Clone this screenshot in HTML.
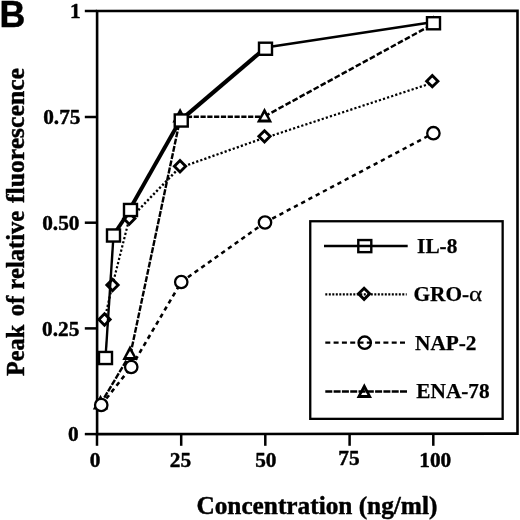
<!DOCTYPE html>
<html><head><meta charset="utf-8"><title>Figure B</title>
<style>html,body{margin:0;padding:0;background:#fff}svg{display:block;filter:blur(0.35px)}</style></head>
<body>
<svg width="520" height="520" viewBox="0 0 520 520">
<rect width="520" height="520" fill="#fff"/>
<polygon points="97.1,10.95 517.5,10.85 517.5,433.6 97.1,434.15" fill="none" stroke="#000" stroke-width="2.6" stroke-linejoin="miter"/>
<line x1="84.8" x2="97.0" y1="434.10" y2="434.10" stroke="#000" stroke-width="2.5"/>
<line x1="84.8" x2="97.0" y1="328.40" y2="328.40" stroke="#000" stroke-width="2.5"/>
<line x1="84.8" x2="97.0" y1="222.70" y2="222.70" stroke="#000" stroke-width="2.5"/>
<line x1="84.8" x2="97.0" y1="117.00" y2="117.00" stroke="#000" stroke-width="2.5"/>
<line x1="84.8" x2="97.0" y1="11.00" y2="11.00" stroke="#000" stroke-width="2.5"/>
<line x1="97.00" x2="97.00" y1="434.0" y2="445.8" stroke="#000" stroke-width="2.5"/>
<line x1="181.20" x2="181.20" y1="434.0" y2="445.8" stroke="#000" stroke-width="2.5"/>
<line x1="265.30" x2="265.30" y1="434.0" y2="445.8" stroke="#000" stroke-width="2.5"/>
<line x1="349.60" x2="349.60" y1="434.0" y2="445.8" stroke="#000" stroke-width="2.5"/>
<line x1="433.30" x2="433.30" y1="434.0" y2="445.8" stroke="#000" stroke-width="2.5"/>
<line x1="100.50" y1="404.00" x2="130.00" y2="354.50" stroke="#000" stroke-width="2.4" stroke-dasharray="6 1.4"/>
<line x1="130.40" y1="354.50" x2="180.50" y2="117.20" stroke="#000" stroke-width="2.4" stroke-dasharray="6 1.4"/>
<line x1="180.10" y1="116.90" x2="264.50" y2="116.70" stroke="#000" stroke-width="2.5" stroke-dasharray="5.2 1.6"/>
<line x1="264.50" y1="116.40" x2="433.50" y2="23.90" stroke="#000" stroke-width="2.5" stroke-dasharray="5.7 2.3"/>
<polygon points="100.50,394.70 108.20,409.40 92.80,409.40" fill="#000"/><polygon points="100.50,400.40 104.00,406.60 97.00,406.60" fill="#fff"/>
<polygon points="130.00,345.20 137.70,359.90 122.30,359.90" fill="#000"/><polygon points="130.00,350.90 133.50,357.10 126.50,357.10" fill="#fff"/>
<polygon points="180.10,107.90 187.80,122.60 172.40,122.60" fill="#000"/><polygon points="180.10,113.60 183.60,119.80 176.60,119.80" fill="#fff"/>
<polygon points="264.50,107.70 272.20,122.40 256.80,122.40" fill="#000"/><polygon points="264.50,113.40 268.00,119.60 261.00,119.60" fill="#fff"/>
<polygon points="433.50,15.20 441.20,29.90 425.80,29.90" fill="#000"/><polygon points="433.50,20.90 437.00,27.10 430.00,27.10" fill="#fff"/>
<line x1="101.25" y1="405.00" x2="131.25" y2="367.00" stroke="#000" stroke-width="2.6" stroke-dasharray="4.3 3.9"/>
<line x1="131.25" y1="367.00" x2="181.25" y2="282.00" stroke="#000" stroke-width="2.6" stroke-dasharray="4.3 3.9"/>
<line x1="181.25" y1="282.00" x2="265.00" y2="222.50" stroke="#000" stroke-width="2.6" stroke-dasharray="4.3 3.9"/>
<line x1="265.00" y1="222.50" x2="433.40" y2="133.20" stroke="#000" stroke-width="2.5" stroke-dasharray="4.3 3.9"/>
<circle cx="101.25" cy="405.00" r="6.2" fill="#fff" stroke="#000" stroke-width="2.3"/>
<circle cx="131.25" cy="367.00" r="6.2" fill="#fff" stroke="#000" stroke-width="2.3"/>
<circle cx="181.25" cy="282.00" r="6.2" fill="#fff" stroke="#000" stroke-width="2.3"/>
<circle cx="265.00" cy="222.50" r="6.2" fill="#fff" stroke="#000" stroke-width="2.3"/>
<circle cx="433.40" cy="133.20" r="6.2" fill="#fff" stroke="#000" stroke-width="2.3"/>
<line x1="104.50" y1="319.50" x2="112.50" y2="285.00" stroke="#000" stroke-width="2.2" stroke-dasharray="2.2 2.1"/>
<line x1="112.50" y1="285.00" x2="129.30" y2="218.60" stroke="#000" stroke-width="2.2" stroke-dasharray="2.2 2.1"/>
<line x1="129.30" y1="219.40" x2="180.00" y2="167.05" stroke="#000" stroke-width="2.4" stroke-dasharray="2.2 2.1"/>
<line x1="180.00" y1="167.65" x2="264.50" y2="137.75" stroke="#000" stroke-width="2.3" stroke-dasharray="2.2 2.1"/>
<line x1="264.50" y1="138.05" x2="432.30" y2="82.90" stroke="#000" stroke-width="2.2" stroke-dasharray="2.2 2.1"/>
<polygon points="104.50,313.85 110.15,319.50 104.50,325.15 98.85,319.50" fill="#fff" stroke="#000" stroke-width="2.85"/>
<polygon points="112.50,279.35 118.15,285.00 112.50,290.65 106.85,285.00" fill="#fff" stroke="#000" stroke-width="2.85"/>
<polygon points="129.30,212.95 134.95,218.60 129.30,224.25 123.65,218.60" fill="#fff" stroke="#000" stroke-width="2.85"/>
<polygon points="180.00,160.60 185.65,166.25 180.00,171.90 174.35,166.25" fill="#fff" stroke="#000" stroke-width="2.85"/>
<polygon points="264.50,130.70 270.15,136.35 264.50,142.00 258.85,136.35" fill="#fff" stroke="#000" stroke-width="2.85"/>
<polygon points="432.30,75.55 437.95,81.20 432.30,86.85 426.65,81.20" fill="#fff" stroke="#000" stroke-width="2.85"/>
<line x1="105.50" y1="358.00" x2="113.50" y2="235.50" stroke="#000" stroke-width="2.4"/>
<line x1="113.50" y1="235.00" x2="130.50" y2="209.50" stroke="#000" stroke-width="3.9"/>
<line x1="129.60" y1="209.50" x2="180.35" y2="120.00" stroke="#000" stroke-width="3.9"/>
<line x1="181.25" y1="119.60" x2="265.50" y2="47.85" stroke="#000" stroke-width="4.1"/>
<line x1="265.50" y1="47.55" x2="433.50" y2="22.05" stroke="#000" stroke-width="2.6"/>
<rect x="99.00" y="351.95" width="13.0" height="12.1" fill="#fff" stroke="#000" stroke-width="2.4"/>
<rect x="107.00" y="229.45" width="13.0" height="12.1" fill="#fff" stroke="#000" stroke-width="2.4"/>
<rect x="124.00" y="203.95" width="13.0" height="12.1" fill="#fff" stroke="#000" stroke-width="2.4"/>
<rect x="174.75" y="114.45" width="13.0" height="12.1" fill="#fff" stroke="#000" stroke-width="2.4"/>
<rect x="259.00" y="42.70" width="13.0" height="12.1" fill="#fff" stroke="#000" stroke-width="2.4"/>
<rect x="427.00" y="17.20" width="13.0" height="12.1" fill="#fff" stroke="#000" stroke-width="2.4"/>
<rect x="310.25" y="221.25" width="192.4" height="197.6" fill="#fff" stroke="#000" stroke-width="2.3"/>
<line x1="324" x2="407.7" y1="246.0" y2="246.0" stroke="#000" stroke-width="2.3"/>
<rect x="358.30" y="240.05" width="13.0" height="12.1" fill="none" stroke="#000" stroke-width="2.4"/>
<line x1="325.3" x2="406.7" y1="294.3" y2="294.3" stroke="#000" stroke-width="2.2" stroke-dasharray="2 1.5"/>
<polygon points="364.10,288.20 369.70,293.80 364.10,299.40 358.50,293.80" fill="none" stroke="#000" stroke-width="2.9"/>
<line x1="325.3" x2="405.7" y1="342.7" y2="342.7" stroke="#000" stroke-width="2.3" stroke-dasharray="5 3.3"/>
<circle cx="364.70" cy="342.70" r="6.2" fill="none" stroke="#000" stroke-width="2.3"/>
<line x1="325.3" x2="407.7" y1="391.5" y2="391.5" stroke="#000" stroke-width="2.4" stroke-dasharray="7 1.3"/>
<path d="M364.3,383.3 L372,398 L356.6,398 Z M364.3,389.4 L367.5,395 L361.1,395 Z" fill="#000" fill-rule="evenodd"/>
<text x="417.1" y="253.2" font-family="Liberation Serif, Times New Roman, serif" font-weight="bold" stroke="#000" stroke-width="0.25" stroke-linejoin="round" font-size="21.3">IL-8</text>
<text x="413.5" y="300.6" font-family="Liberation Serif, Times New Roman, serif" font-weight="bold" stroke="#000" stroke-width="0.25" stroke-linejoin="round" font-size="21.3">GRO-</text>
<text x="415.0" y="350.3" font-family="Liberation Serif, Times New Roman, serif" font-weight="bold" stroke="#000" stroke-width="0.25" stroke-linejoin="round" font-size="21.3">NAP-2</text>
<text x="416.3" y="397.8" font-family="Liberation Serif, Times New Roman, serif" font-weight="bold" stroke="#000" stroke-width="0.25" stroke-linejoin="round" font-size="21.3">ENA-78</text>
<text transform="translate(468.9 300.6) scale(1.17 1)" font-family="Liberation Serif, Times New Roman, serif" font-weight="normal" stroke="#000" stroke-width="0.25" stroke-linejoin="round" font-size="21.3">α</text>
<text x="78.7" y="440.60" text-anchor="end" font-family="Liberation Serif, Times New Roman, serif" font-weight="bold" stroke="#000" stroke-width="0.45" stroke-linejoin="round" font-size="21.3">0</text>
<text x="79.3" y="335.60" text-anchor="end" font-family="Liberation Serif, Times New Roman, serif" font-weight="bold" stroke="#000" stroke-width="0.45" stroke-linejoin="round" font-size="21.3">0.25</text>
<text x="79.5" y="229.60" text-anchor="end" font-family="Liberation Serif, Times New Roman, serif" font-weight="bold" stroke="#000" stroke-width="0.45" stroke-linejoin="round" font-size="21.3">0.50</text>
<text x="80.5" y="123.50" text-anchor="end" font-family="Liberation Serif, Times New Roman, serif" font-weight="bold" stroke="#000" stroke-width="0.45" stroke-linejoin="round" font-size="21.3">0.75</text>
<text x="80.6" y="17.80" text-anchor="end" font-family="Liberation Serif, Times New Roman, serif" font-weight="bold" stroke="#000" stroke-width="0.45" stroke-linejoin="round" font-size="21.3">1</text>
<text x="95" y="467.3" text-anchor="middle" font-family="Liberation Serif, Times New Roman, serif" font-weight="bold" stroke="#000" stroke-width="0.45" stroke-linejoin="round" font-size="21.3">0</text>
<text x="180.5" y="467" text-anchor="middle" font-family="Liberation Serif, Times New Roman, serif" font-weight="bold" stroke="#000" stroke-width="0.45" stroke-linejoin="round" font-size="21.3">25</text>
<text x="265.8" y="467" text-anchor="middle" font-family="Liberation Serif, Times New Roman, serif" font-weight="bold" stroke="#000" stroke-width="0.45" stroke-linejoin="round" font-size="21.3">50</text>
<text x="348.9" y="465" text-anchor="middle" font-family="Liberation Serif, Times New Roman, serif" font-weight="bold" stroke="#000" stroke-width="0.45" stroke-linejoin="round" font-size="21.3">75</text>
<text x="435.3" y="467" text-anchor="middle" font-family="Liberation Serif, Times New Roman, serif" font-weight="bold" stroke="#000" stroke-width="0.45" stroke-linejoin="round" font-size="21.3">100</text>
<text x="316.9" y="514.2" text-anchor="middle" font-family="Liberation Serif, Times New Roman, serif" font-weight="bold" stroke="#000" stroke-width="0.45" stroke-linejoin="round" font-size="25.3">Concentration (ng/ml)</text>
<text transform="translate(23.9 376.0) rotate(-90) scale(0.951 1)" font-family="Liberation Serif, Times New Roman, serif" font-weight="bold" stroke="#000" stroke-width="0.45" stroke-linejoin="round" font-size="25.5">Peak</text>
<text transform="translate(23.9 316.3) rotate(-90) scale(0.966 1)" font-family="Liberation Serif, Times New Roman, serif" font-weight="bold" stroke="#000" stroke-width="0.45" stroke-linejoin="round" font-size="25.5">of</text>
<text transform="translate(23.9 289.4) rotate(-90) scale(0.962 1)" font-family="Liberation Serif, Times New Roman, serif" font-weight="bold" stroke="#000" stroke-width="0.45" stroke-linejoin="round" font-size="25.5">relative</text>
<text transform="translate(23.9 203.0) rotate(-90) scale(1.007 1)" font-family="Liberation Serif, Times New Roman, serif" font-weight="bold" stroke="#000" stroke-width="0.45" stroke-linejoin="round" font-size="25.5">fluorescence</text>
<text transform="translate(-0.5 26.5) scale(1 1.06)" font-family="Liberation Sans, Arial, sans-serif" font-weight="bold" font-size="35.7" stroke="#000" stroke-width="0.5">B</text>
</svg>
</body></html>
